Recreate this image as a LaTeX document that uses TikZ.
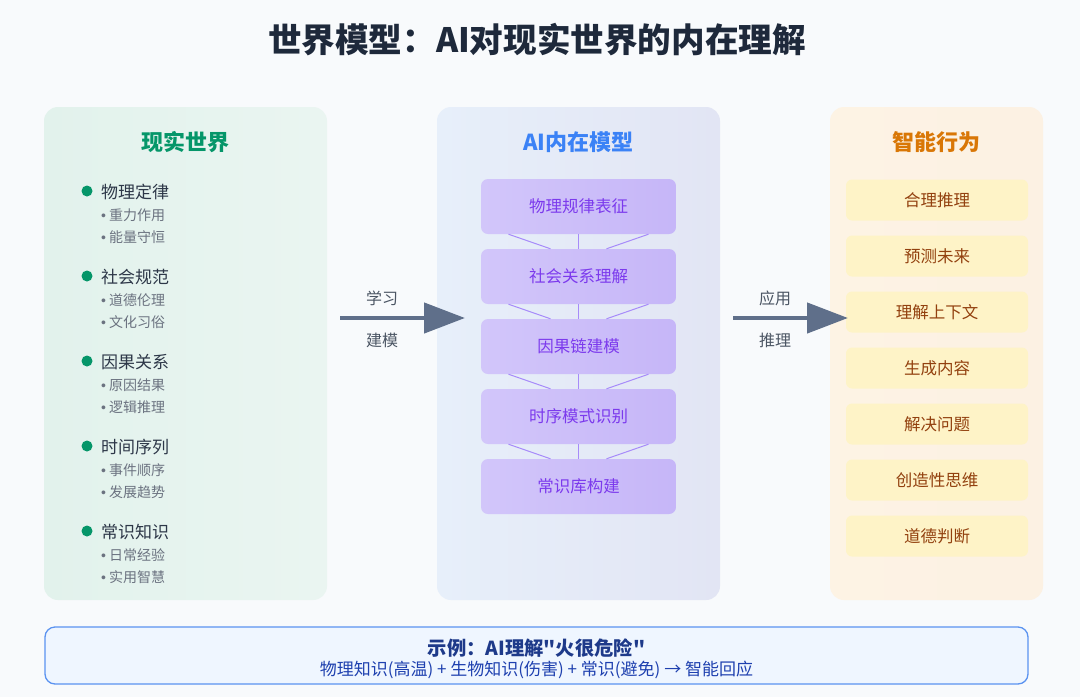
\documentclass[tikz,border=0pt]{standalone}
\usepackage{fontspec}
\setmainfont{Noto Sans CJK SC}
\newfontfamily\plaincjk{Noto Sans CJK SC}
\newfontfamily\latinfont{Liberation Sans}
\usetikzlibrary{arrows.meta,calc}
\definecolor{bgc}{HTML}{F8FAFC}
\definecolor{titlec}{HTML}{1E293B}
\definecolor{greenc}{HTML}{059669}
\definecolor{maintext}{HTML}{2D3748}
\definecolor{subtext}{HTML}{6B7280}
\definecolor{bluec}{HTML}{3B82F6}
\definecolor{purpletext}{HTML}{7C3AED}
\definecolor{purpleA}{HTML}{D2C6FA}
\definecolor{purpleB}{HTML}{C6B6F8}
\definecolor{linkc}{HTML}{A78BFA}
\definecolor{orangec}{HTML}{D97706}
\definecolor{yellowc}{HTML}{FEF3C7}
\definecolor{browntext}{HTML}{92400E}
\definecolor{arrowc}{HTML}{5F6F8A}
\definecolor{labelc}{HTML}{4B5563}
\definecolor{exfill}{HTML}{EFF6FF}
\definecolor{exborder}{HTML}{5B93F0}
\definecolor{extitle}{HTML}{1E3A8A}
\definecolor{extext}{HTML}{1E40AF}
\definecolor{leftA}{HTML}{E2F2EC}
\definecolor{leftB}{HTML}{EAF5F1}
\definecolor{midA}{HTML}{E7EFFA}
\definecolor{midB}{HTML}{E2E5F4}
\definecolor{rightA}{HTML}{FDF3E4}
\definecolor{rightB}{HTML}{FCF1E3}
\tikzset{
  panel/.style={rounded corners=14pt, inner sep=0pt, minimum width=#1, minimum height=493pt},
  paneltitle/.style={font=\bfseries\fontsize{22}{26}\selectfont, inner sep=0pt},
  mainitem/.style={anchor=west, inner sep=0pt, text=maintext, font=\fontsize{17}{20}\selectfont},
  subitem/.style={anchor=west, inner sep=0pt, text=subtext, font=\fontsize{14}{17}\selectfont},
  dotmark/.style={circle, fill=greenc, inner sep=0pt, minimum size=11pt},
  modelbox/.style={rounded corners=7pt, left color=purpleA, right color=purpleB, minimum width=195pt, minimum height=55pt, inner sep=0pt, text=purpletext, font=\fontsize{16.5}{19}\selectfont},
  link/.style={draw=linkc, line width=1pt},
  actbox/.style={rounded corners=6pt, fill=yellowc, minimum width=182pt, minimum height=41pt, inner sep=0pt, text=browntext, font=\fontsize{16.5}{19}\selectfont},
  bigarrow/.style={draw=arrowc, line width=4.5pt, -{Triangle[length=41pt,width=30pt]}},
  arrowlabel/.style={text=labelc, inner sep=0pt, font=\fontsize{16}{19}\selectfont},
}
\begin{document}
\begin{tikzpicture}[x=1pt,y=-1pt]
\fill[bgc] (0,0) rectangle (1080,697);
\useasboundingbox (0,0) rectangle (1080,697);

\node[inner sep=0pt, text=titlec, font=\bfseries\fontsize{33.6}{38}\selectfont] (title) at (537,40) {世界模型：AI对现实世界的内在理解};

% panels
\node[panel=283pt, left color=leftA, right color=leftB] (leftp) at (185.5,353.5) {};
\node[panel=283pt, left color=midA, right color=midB] (midp) at (578.5,353.5) {};
\node[panel=213pt, left color=rightA, right color=rightB] (rightp) at (936.5,353.5) {};

\node[paneltitle, text=greenc] (lt) at (185.5,142) {现实世界};
\node[paneltitle, text=bluec] (mt) at (578.5,142) {AI内在模型};
\node[paneltitle, text=orangec] (rt) at (936.5,142) {智能行为};

% left list
\foreach \i/\m/\a/\b in {0/物理定律/重力作用/能量守恒, 1/社会规范/道德伦理/文化习俗, 2/因果关系/原因结果/逻辑推理, 3/时间序列/事件顺序/发展趋势, 4/常识知识/日常经验/实用智慧}{
  \node[dotmark] (dot\i) at (87,191+85*\i) {};
  \node[mainitem] (main\i) at (101,192+85*\i) {\m};
  \node[subitem] (suba\i) at (101,215+85*\i) {{\latinfont •} \a};
  \node[subitem] (subb\i) at (101,237+85*\i) {{\latinfont •} \b};
}

% model boxes
\node[modelbox] (b1) at (578.5,206.5) {物理规律表征};
\node[modelbox] (b2) at (578.5,276.5) {社会关系理解};
\node[modelbox] (b3) at (578.5,346.5) {因果链建模};
\node[modelbox] (b4) at (578.5,416.5) {时序模式识别};
\node[modelbox] (b5) at (578.5,486.5) {常识库构建};
\foreach \u/\v in {b1/b2, b2/b3, b3/b4, b4/b5}{
  \draw[link] ($(\u.south)+(-70,0)$) -- ($(\v.north)+(-28,0)$);
  \draw[link] (\u.south) -- (\v.north);
  \draw[link] ($(\u.south)+(70,0)$) -- ($(\v.north)+(28,0)$);
}

% right boxes
\foreach \i/\t in {0/合理推理, 1/预测未来, 2/理解上下文, 3/生成内容, 4/解决问题, 5/创造性思维, 6/道德判断}{
  \node[actbox] (act\i) at (937,200+56*\i) {\t};
}

% arrows
\coordinate (la) at (340,318);
\coordinate (lb) at (465,318);
\coordinate (ra) at (733,318);
\coordinate (rb) at (848,318);
\draw[bigarrow] (la) -- (lb);
\draw[bigarrow] (ra) -- (rb);
\node[arrowlabel] (l1) at (382,298) {学习};
\node[arrowlabel] (l2) at (382,340) {建模};
\node[arrowlabel] (r1) at (775,298) {应用};
\node[arrowlabel] (r2) at (775,340) {推理};

% example box
\node[rounded corners=10pt, fill=exfill, draw=exborder, line width=1.3pt, minimum width=983pt, minimum height=57pt, inner sep=0pt] (ex) at (536.5,655.5) {};
\node[inner sep=0pt, text=extitle, font=\bfseries\fontsize{19.3}{23}\selectfont] (ext) at (536.5,648) {示例：AI理解{\plaincjk\bfseries "}火很危险{\plaincjk\bfseries "}};
\node[inner sep=0pt, text=extext, font=\fontsize{17}{20}\selectfont] (exb) at (536.5,670) {物理知识(高温) + 生物知识(伤害) + 常识(避免) → 智能回应};
\end{tikzpicture}
\end{document}
